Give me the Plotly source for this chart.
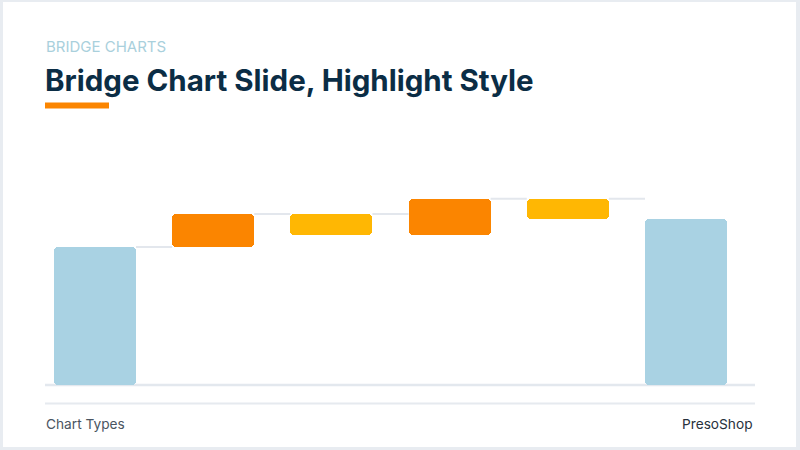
import plotly.graph_objects as go

categories = ["Start", "Step 1", "Step 2", "Step 3", "Step 4", "End"]
changes = [100, 24, -15, 26, -15, None]   # None = total bar
kinds = ["total", "up", "down", "up", "down", "total"]

COL_TOTAL = "#a9d2e3"
COL_UP = "#fb8500"
COL_DOWN = "#ffb703"

# compute bases / heights from the data
bases, heights, colors, tops = [], [], [], []
running = 0
for c, k in zip(changes, kinds):
    if k == "total":
        if c is not None:
            running = c
        bases.append(0)
        heights.append(running)
        colors.append(COL_TOTAL)
        tops.append(running)
    else:
        start = running
        running = running + c
        lo, hi = min(start, running), max(start, running)
        bases.append(lo)
        heights.append(hi - lo)
        colors.append(COL_UP if c > 0 else COL_DOWN)
        tops.append(hi)

BW = 0.694
L, R, T, B = 45, 45, 150, 65
W, H = 800, 450
PW, PH = W - L - R, H - T - B

def px(x):
    return (x - L) / PW

def py(y):
    return (H - B - y) / PH

fig = go.Figure()
fig.add_trace(go.Bar(
    x=categories, y=heights, base=bases, width=BW,
    marker=dict(color=colors, line=dict(width=0), cornerradius=4),
    hoverinfo="skip", showlegend=False,
))

shapes = []
# card background
shapes.append(dict(type="rect", xref="paper", yref="paper", layer="below",
                   x0=px(3), x1=px(796), y0=py(447), y1=py(2),
                   fillcolor="white", line=dict(width=0)))
# connectors at top of each bar
for i in range(len(categories) - 1):
    shapes.append(dict(type="line", xref="x", yref="y", layer="below",
                       x0=i + BW / 2, x1=i + 1 - BW / 2, y0=tops[i], y1=tops[i],
                       line=dict(color="#e3e7ed", width=2)))
# baseline and footer separator
shapes.append(dict(type="line", xref="paper", yref="paper", layer="below",
                   x0=0, x1=1, y0=py(385), y1=py(385),
                   line=dict(color="#e3e8ee", width=2.5)))
shapes.append(dict(type="line", xref="paper", yref="paper",
                   x0=0, x1=1, y0=py(403.5), y1=py(403.5),
                   line=dict(color="#e6eaef", width=2)))
# orange accent bar under title
shapes.append(dict(type="rect", xref="paper", yref="paper",
                   x0=px(45), x1=px(109), y0=py(108.5), y1=py(102.5),
                   fillcolor="#fb8500", line=dict(width=0)))

annotations = [
    dict(text="BRIDGE CHARTS", xref="paper", yref="paper", x=px(44), y=py(46),
         xanchor="left", yanchor="middle", showarrow=False,
         font=dict(family="Inter", size=15, color="#a9d0dc")),
    dict(text="<b>Bridge Chart Slide, Highlight Style</b>", xref="paper", yref="paper",
         x=px(43), y=py(80), xanchor="left", yanchor="middle", showarrow=False,
         font=dict(family="Inter", size=29.5, color="#0b2d45", weight=800)),
    dict(text="Chart Types", xref="paper", yref="paper", x=px(44), y=py(424),
         xanchor="left", yanchor="middle", showarrow=False,
         font=dict(family="Inter", size=13.7, color="#4a5561")),
    dict(text="PresoShop", xref="paper", yref="paper", x=px(755), y=py(424),
         xanchor="right", yanchor="middle", showarrow=False,
         font=dict(family="Inter", size=13.7, color="#27313c")),
]

fig.update_layout(
    width=W, height=H,
    margin=dict(l=L, r=R, t=T, b=B),
    paper_bgcolor="#e8ecf1",
    plot_bgcolor="rgba(0,0,0,0)",
    xaxis=dict(visible=False, range=[-(95 - L) / 118.2, (W - R - 95) / 118.2]),
    yaxis=dict(visible=False, range=[0, PH / 1.38]),
    shapes=shapes,
    annotations=annotations,
    bargap=0,
)

fig.write_html("out.html", config={"displayModeBar": False},
               post_script="document.body.style.margin='0';document.body.style.padding='0';")
